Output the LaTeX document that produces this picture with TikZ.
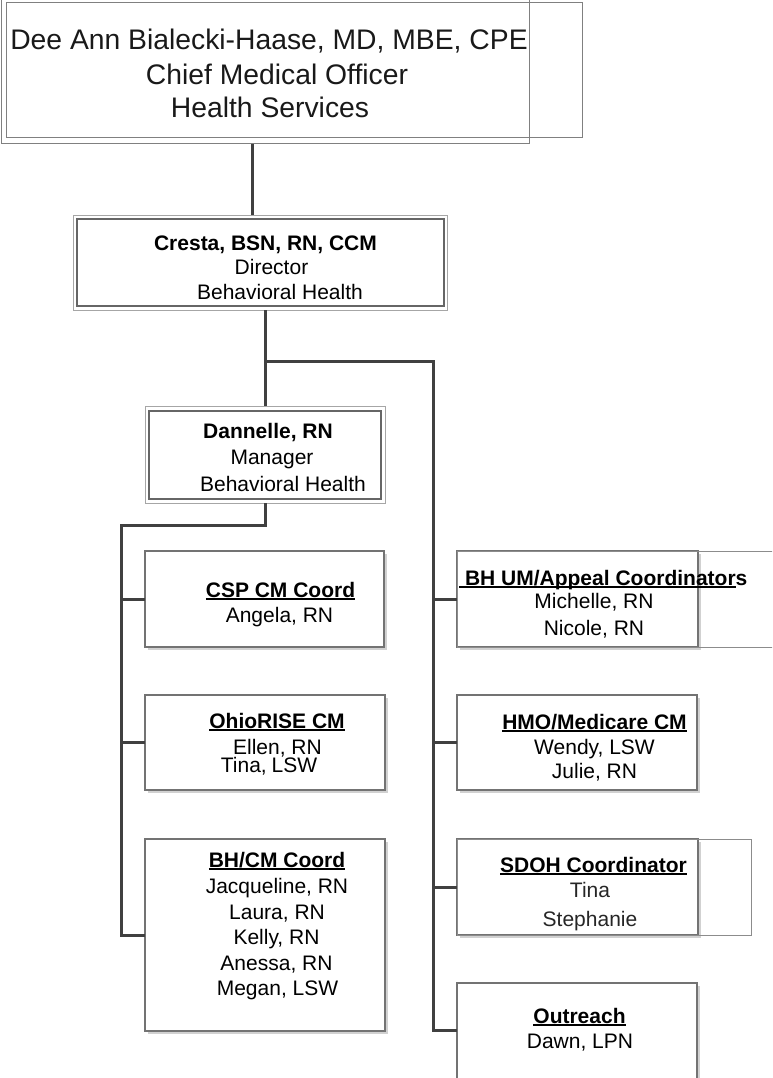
\documentclass[tikz,border=0pt]{standalone}
\usepackage{fontspec}
\setmainfont{Liberation Sans}
\usetikzlibrary{shadows}
% heading with a thick rule just under the baseline
\newcommand\hdrline[1]{\setbox0\hbox{#1}\rlap{\rule[-2.8pt]{\wd0}{2pt}}\box0}

\begin{document}
\begin{tikzpicture}[x=1pt,y=-1pt,
  conn/.style={draw=black!75, line width=3pt},
  plain/.style={draw=black!50, line width=1pt, inner sep=0pt, outer sep=0pt},
  outerframe/.style={draw=black!35, line width=1pt, inner sep=0pt, outer sep=0pt},
  innerframe/.style={draw=black!60, line width=1.2pt, inner sep=0pt, outer sep=0pt},
  unit/.style={draw=black!55, fill=white, line width=1.2pt, inner sep=0pt, outer sep=0pt,
    drop shadow={shadow xshift=2.5pt, shadow yshift=-2.5pt, fill=black!18, opacity=1}},
  extra/.style={draw=black!45, line width=1pt},
  txt/.style={inner sep=0pt, anchor=base, text=black, font=\fontsize{21}{24}\selectfont},
  big/.style={inner sep=0pt, anchor=base, text=black!90, font=\fontsize{28.3}{32}\selectfont}]

\useasboundingbox (0,0) rectangle (772,1078);
\clip (0,0) rectangle (772,1078);

% ---- Chief Medical Officer
\node[plain, minimum width=576pt, minimum height=135pt] (cmo) at (294,70.5) {};
\node[plain, minimum width=528pt, minimum height=147pt] (cmoB) at (265,70.5) {};
\node[big] (cmo1) at (269,50) {Dee Ann Bialecki-Haase, MD, MBE, CPE};
\node[big] (cmo2) at (277,85) {Chief Medical Officer};
\node[big] (cmo3) at (270,118) {Health Services};

% ---- Director
\node[outerframe, minimum width=374pt, minimum height=95pt] (cresta) at (260,262.5) {};
\node[innerframe, minimum width=367pt, minimum height=87pt] (crestaIn) at (260.5,262.5) {};
\node[txt] (cr1) at (265.5,250) {\bfseries Cresta, BSN, RN, CCM};
\node[txt] (cr2) at (271.5,274) {Director};
\node[txt] (cr3) at (280,299) {Behavioral Health};

% ---- Manager
\node[outerframe, minimum width=240pt, minimum height=97pt] (dannelle) at (265,454.5) {};
\node[innerframe, minimum width=232pt, minimum height=88pt] (dannelleIn) at (265,455) {};
\node[txt] (dn1) at (268,438) {\bfseries Dannelle, RN};
\node[txt] (dn2) at (272,464) {Manager};
\node[txt] (dn3) at (283,491) {Behavioral Health};

% ---- left column units
\node[unit, minimum width=239pt, minimum height=96pt] (csp) at (264.5,599) {};
\node[txt] (csp1) at (280.5,597) {\bfseries\hdrline{CSP CM Coord}};
\node[txt] (csp2) at (279.5,622) {Angela, RN};

\node[unit, minimum width=240pt, minimum height=95pt] (ohio) at (265,742.5) {};
\node[txt] (oh1) at (277,728) {\bfseries\hdrline{OhioRISE CM}};
\node[txt] (oh2) at (277.5,754) {Ellen, RN};
\node[txt] (oh3) at (269,772) {Tina,\kern-1pt\ LSW};

\node[unit, minimum width=240pt, minimum height=192pt] (bhcm) at (265,935) {};
\node[txt] (bc1) at (277,867) {\bfseries\hdrline{BH/CM Coord}};
\node[txt] (bc2) at (277,893) {Jacqueline, RN};
\node[txt] (bc3) at (277,919) {Laura, RN};
\node[txt] (bc4) at (276.5,944) {Kelly, RN};
\node[txt] (bc5) at (276.5,970) {Anessa, RN};
\node[txt] (bc6) at (277.5,995) {Megan, LSW};

% ---- right column units
\node[unit, minimum width=241pt, minimum height=96pt] (bhum) at (577.5,599) {};
\draw[extra] (bhum.north west) rectangle (800,647);
\node[txt, anchor=base west] (um1) at (459,585) {\bfseries\hdrline{\ BH UM/Appeal Coordinator}s};
\node[txt] (um2) at (594,608) {Michelle, RN};
\node[txt] (um3) at (594,635) {Nicole, RN};

\node[unit, minimum width=240pt, minimum height=95pt] (hmo) at (577,742.5) {};
\node[txt] (hm1) at (594.5,729) {\bfseries\hdrline{HMO/Medicare CM}};
\node[txt] (hm2) at (594.5,754) {Wendy, LSW};
\node[txt] (hm3) at (594.5,778) {Julie, RN};

\node[unit, minimum width=241pt, minimum height=96pt] (sdoh) at (577.5,887) {};
\draw[extra] (sdoh.north west) rectangle (751,935);
\node[txt] (sd1) at (593.5,872) {\bfseries\hdrline{SDOH Coordinator}};
\node[txt, text=black!85] (sd2) at (590,897) {Tina};
\node[txt, text=black!85] (sd3) at (590,926) {Stephanie};

\node[unit, minimum width=240pt, minimum height=100pt] (outreach) at (577,1033) {};
\node[txt] (or1) at (579.5,1023) {\bfseries\hdrline{Outreach}};
\node[txt] (or2) at (580,1048) {Dawn, LPN};

% ---- reporting lines
\coordinate (j0) at (252,0);
\coordinate (jA) at (265,361);
\coordinate (jR) at (433,361);
\coordinate (jL) at (121,525);
\coordinate (jO) at (433,1030);

\draw[conn] (cmoB.south -| j0) -- (cresta.north -| j0);
\draw[conn] (cresta.south -| jA) -- (dannelle.north -| jA);
\draw[conn] (jA) -- (jR) -- (jO) -- (jO -| outreach.west);
\draw[conn] (jR |- bhum.west) -- (bhum.west);
\draw[conn] (jR |- hmo.west) -- (hmo.west);
\draw[conn] (jR |- sdoh.west) -- (sdoh.west);

\draw[conn] (dannelle.south -| jA) |- (jL) -- (jL |- bhcm.west) -- (bhcm.west);
\draw[conn] (jL |- csp.west) -- (csp.west);
\draw[conn] (jL |- ohio.west) -- (ohio.west);
\end{tikzpicture}
\end{document}
